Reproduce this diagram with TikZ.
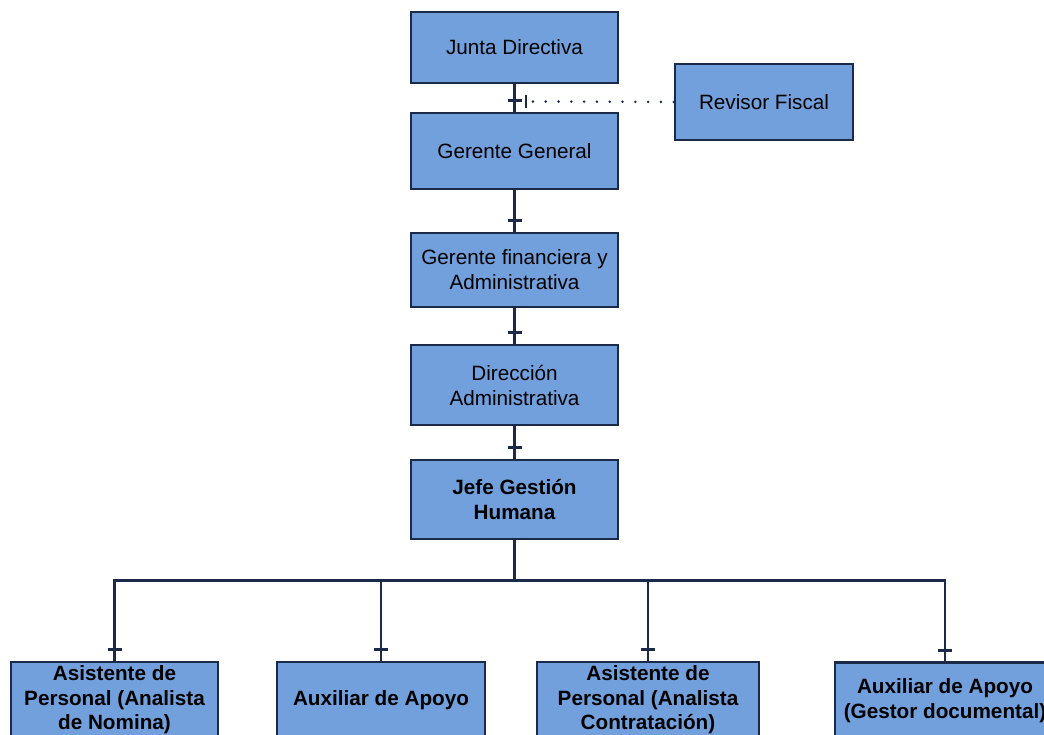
\documentclass[tikz,border=0pt]{standalone}
\usepackage{fontspec}
\setmainfont{Liberation Sans}
\usetikzlibrary{calc}
\definecolor{boxfill}{RGB}{114,160,220}
\definecolor{navy}{RGB}{26,42,72}
\begin{document}
\begin{tikzpicture}[x=1pt,y=-1pt,
  unit/.style={draw=navy,fill=boxfill,line width=2.6pt,rectangle,inner sep=0pt,
    align=center,font=\fontsize{20.7}{25}\selectfont},
  leaf/.style={unit,font=\fontsize{20.7}{24.5}\selectfont\bfseries},
  link/.style={draw=navy,line width=2.6pt},
  tick/.style={draw=navy,line width=2.6pt},
  dots/.style={draw=navy,line width=2.8pt,line cap=round,dash pattern=on 0pt off 12.8pt}]
\clip (0,0) rectangle (1044,734);
\fill[white] (0,0) rectangle (1044,734);

% upper chain of command
\node[unit,minimum width=207,minimum height=71] (junta) at (514.5,47.5) {Junta Directiva};
\node[unit,minimum width=178,minimum height=76] (revisor) at (764,102) {Revisor Fiscal};
\node[unit,minimum width=207,minimum height=76] (gg) at (514.5,151) {Gerente General};
\node[unit,minimum width=207,minimum height=74] (gfa) at (514.5,270) {Gerente financiera y\\Administrativa};
\node[unit,minimum width=207,minimum height=80] (dir) at (514.5,385) {Dirección\\Administrativa};
\node[unit,minimum width=207,minimum height=79,font=\fontsize{20.7}{25}\selectfont\bfseries] (jefe) at (514.5,499.5) {Jefe Gestión\\Humana};

% staff under human resources
\node[leaf,minimum width=207,minimum height=76] (a1) at (114.5,700) {Asistente de\\Personal (Analista\\de Nomina)};
\node[leaf,minimum width=208,minimum height=76] (a2) at (381,700) {Auxiliar de Apoyo};
\node[leaf,minimum width=222,minimum height=76] (a3) at (648,700) {Asistente de\\Personal (Analista\\Contratación)};
\node[leaf,minimum width=220,minimum height=76] (a4) at (945,700.5) {Auxiliar de Apoyo\\(Gestor documental)};

% vertical links with their tick marks
\foreach \p/\c in {junta/gg,gg/gfa,gfa/dir,dir/jefe}{
  \draw[link] (\p.south) -- (\c.north);
  \draw[tick] ($(\c.north)+(-7,-11)$) -- ++(14,0);
}

% branch bus to the staff positions
\coordinate (bus) at ($(jefe.south)+(0,40)$);
\draw[link] (jefe.south) -- (bus);
\draw[link,line cap=rect] (a1.north |- bus) -- (a4.north |- bus);
\foreach \c in {a1,a2,a3,a4}{
  \draw[link] (\c.north |- bus) -- (\c.north);
  \draw[tick] ($(\c.north)+(-7,-11)$) -- ++(14,0);
}

% advisory link from the fiscal auditor
\coordinate (bar) at (526,101.5);
\draw[dots] (revisor.west) -- (529,101.5);
\draw[tick,line width=2.8pt] ($(bar)+(0,-6.5)$) -- ($(bar)+(0,6.5)$);
\end{tikzpicture}
\end{document}
